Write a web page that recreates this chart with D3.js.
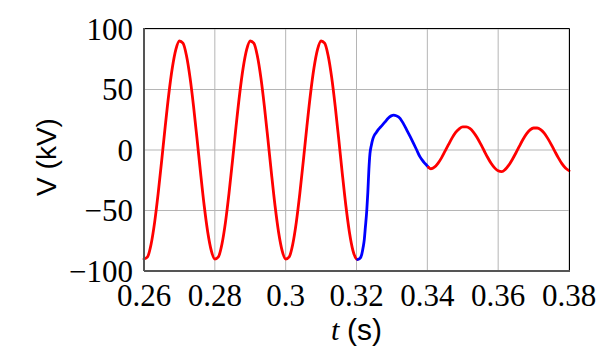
<!DOCTYPE html>
<html>
<head>
<meta charset="utf-8">
<script src="https://cdn.jsdelivr.net/npm/d3@7"></script>
<style>
  body { margin: 0; background: #fff; }
  svg { display: block; }
</style>
</head>
<body>
<div id="chart"></div>
<script>
// pre-fault red trace: t (s), V (kV)
var timeA = [0.2600, 0.2610, 0.2620, 0.2630, 0.2640, 0.2650, 0.2660, 0.2670, 0.2680, 0.2690,
             0.2700, 0.2710, 0.2720, 0.2730, 0.2740, 0.2750, 0.2760, 0.2770, 0.2780, 0.2790,
             0.2800, 0.2810, 0.2820, 0.2830, 0.2840, 0.2850, 0.2860, 0.2870, 0.2880, 0.2890,
             0.2900, 0.2910, 0.2920, 0.2930, 0.2940, 0.2950, 0.2960, 0.2970, 0.2980, 0.2990,
             0.3000, 0.3010, 0.3020, 0.3030, 0.3040, 0.3050, 0.3060, 0.3070, 0.3080, 0.3090,
             0.3100, 0.3110, 0.3120, 0.3130, 0.3140, 0.3150, 0.3160, 0.3170, 0.3180, 0.3190,
             0.3200, 0.3203];
var voltA = [-90.1, -88.3, -77.9, -59.8, -35.9, -8.5, 19.7, 46.1, 67.9, 83.1,
             90.1, 88.3, 77.9, 59.8, 35.9, 8.5, -19.7, -46.1, -67.9, -83.1,
             -90.1, -88.3, -77.9, -59.8, -35.9, -8.5, 19.7, 46.1, 67.9, 83.1,
             90.1, 88.3, 77.9, 59.8, 35.9, 8.5, -19.7, -46.1, -67.9, -83.1,
             -90.1, -88.3, -77.9, -59.8, -35.9, -8.5, 19.7, 46.1, 67.9, 83.1,
             90.1, 88.3, 77.9, 59.8, 35.9, 8.5, -19.7, -46.1, -67.9, -83.1,
             -90.1, -90.5];

// transient (blue)
var timeB = [0.3203, 0.3210, 0.3215, 0.3219, 0.3222, 0.3225, 0.3229, 0.3232, 0.3235, 0.3238,
             0.3242, 0.3246, 0.3250, 0.3256, 0.3262, 0.3271, 0.3280, 0.3290, 0.3298, 0.3305,
             0.3312, 0.3323, 0.3332, 0.3342, 0.3352, 0.3361, 0.3370, 0.3379, 0.3390, 0.3398,
             0.3403];
var voltB = [-90.5, -89.5, -86, -80, -74, -64, -50, -35, -16, -3,
             4, 9, 12, 14.5, 17, 20, 23, 26.5, 28.2, 28.8,
             28.3, 26.2, 22, 16.5, 10.8, 5.5, 0, -5.5, -10, -12.6,
             -14.2];

// post-fault red trace
var timeC = [0.3403, 0.3410, 0.3420, 0.3430, 0.3440, 0.3450, 0.3460, 0.3470, 0.3480, 0.3490,
             0.3500, 0.3510, 0.3520, 0.3530, 0.3540, 0.3550, 0.3560, 0.3570, 0.3580, 0.3590,
             0.3600, 0.3610, 0.3620, 0.3630, 0.3640, 0.3650, 0.3660, 0.3670, 0.3680, 0.3690,
             0.3700, 0.3710, 0.3720, 0.3730, 0.3740, 0.3750, 0.3760, 0.3770, 0.3780, 0.3790,
             0.3800];
var voltC = [-14.2, -15.5, -14.2, -11.0, -6.5, -1.0, 4.6, 10.0, 14.5, 17.5,
             19.1, 19.1, 17.8, 14.8, 10.5, 5.2, -0.4, -6.0, -11.0, -14.8,
             -17.2, -17.9, -16.0, -12.5, -7.8, -2.5, 3.2, 8.7, 13.3, 16.6,
             18.2, 18.2, 16.8, 13.9, 9.6, 4.5, -1.1, -6.5, -11.3, -14.9,
             -17.1];

var xTicks = [0.26, 0.28, 0.30, 0.32, 0.34, 0.36, 0.38];
var xTickLabels = ["0.26", "0.28", "0.3", "0.32", "0.34", "0.36", "0.38"];
var yTicks = [-100, -50, 0, 50, 100];
var yTickLabels = ["\u2212100", "\u221250", "0", "50", "100"];

function zip(ts, vs) {
  return ts.map(function(t, i) { return {t: t, v: vs[i]}; });
}

function voltageChart() {
  var width = 606;
  var height = 351;
  var left = 144, right = 569, top = 29, bottom = 271;

  var x = d3.scaleLinear().domain([0.26, 0.38]).range([left, right]);
  var y = d3.scaleLinear().domain([-100, 100]).range([bottom, top]);

  var svg = d3.select('#chart')
    .append('svg')
    .attr('width', width)
    .attr('height', height);

  // grid
  svg.append('g')
    .selectAll('line')
    .data(xTicks)
    .enter()
    .append('line')
    .attr('x1', function(d) { return x(d); })
    .attr('x2', function(d) { return x(d); })
    .attr('y1', top)
    .attr('y2', bottom)
    .attr('stroke', '#b5b5b5')
    .attr('stroke-width', 1);

  svg.append('g')
    .selectAll('line')
    .data(yTicks)
    .enter()
    .append('line')
    .attr('x1', left)
    .attr('x2', right)
    .attr('y1', function(d) { return y(d); })
    .attr('y2', function(d) { return y(d); })
    .attr('stroke', '#b5b5b5')
    .attr('stroke-width', 1);

  var line = d3.line()
    .x(function(d) { return x(d.t); })
    .y(function(d) { return y(d.v); })
    .curve(d3.curveMonotoneX);

  var traces = [
    {pts: zip(timeA, voltA), color: '#ff0000'},
    {pts: zip(timeB, voltB), color: '#0000ff'},
    {pts: zip(timeC, voltC), color: '#ff0000'}
  ];

  svg.append('g')
    .selectAll('path')
    .data(traces)
    .enter()
    .append('path')
    .attr('d', function(d) { return line(d.pts); })
    .attr('fill', 'none')
    .attr('stroke', function(d) { return d.color; })
    .attr('stroke-width', 2.8)
    .attr('stroke-linejoin', 'round')
    .attr('stroke-linecap', 'round');

  // frame
  svg.append('line').attr('x1', left).attr('x2', right + 0.5).attr('y1', top - 0.5).attr('y2', top - 0.5)
    .attr('stroke', '#000').attr('stroke-width', 1);
  svg.append('line').attr('x1', right + 0.5).attr('x2', right + 0.5).attr('y1', top - 0.5).attr('y2', bottom)
    .attr('stroke', '#000').attr('stroke-width', 1);
  svg.append('line').attr('x1', left).attr('x2', right + 1).attr('y1', bottom).attr('y2', bottom)
    .attr('stroke', '#555').attr('stroke-width', 2);
  svg.append('line').attr('x1', left).attr('x2', left).attr('y1', top - 1).attr('y2', bottom)
    .attr('stroke', '#555').attr('stroke-width', 2);

  // tick labels
  svg.append('g')
    .selectAll('text')
    .data(yTicks)
    .enter()
    .append('text')
    .attr('x', left - 11)
    .attr('y', function(d) { return y(d); })
    .attr('dy', '0.34em')
    .attr('text-anchor', 'end')
    .attr('font-family', 'Liberation Serif, serif')
    .attr('font-size', 31)
    .text(function(d, i) { return yTickLabels[i]; });

  svg.append('g')
    .selectAll('text')
    .data(xTicks)
    .enter()
    .append('text')
    .attr('x', function(d) { return x(d); })
    .attr('y', 306)
    .attr('text-anchor', 'middle')
    .attr('font-family', 'Liberation Serif, serif')
    .attr('font-size', 31)
    .text(function(d, i) { return xTickLabels[i]; });

  // axis titles
  var xt = svg.append('text')
    .attr('x', (left + right) / 2)
    .attr('y', 340)
    .attr('text-anchor', 'middle')
    .attr('font-size', 30);
  xt.append('tspan')
    .attr('font-family', 'Liberation Serif, serif')
    .attr('font-style', 'italic')
    .text('t ');
  xt.append('tspan')
    .attr('font-family', 'Liberation Sans, sans-serif')
    .text('(s)');

  svg.append('text')
    .attr('transform', 'translate(56,157) rotate(-90)')
    .attr('text-anchor', 'middle')
    .attr('font-family', 'Liberation Sans, sans-serif')
    .attr('font-size', 28)
    .text('V (kV)');
}

voltageChart();
</script>
</body>
</html>
